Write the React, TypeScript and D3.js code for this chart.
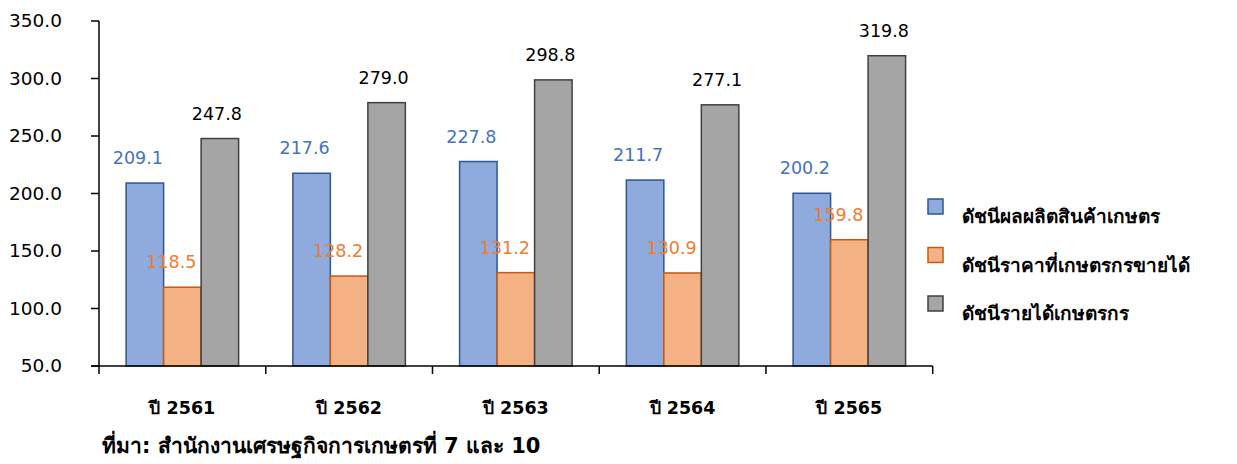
import React from "react";
import * as d3 from "d3";

const categories = ["ปี 2561", "ปี 2562", "ปี 2563", "ปี 2564", "ปี 2565"];
const seriesNames = [
  "ดัชนีผลผลิตสินค้าเกษตร",
  "ดัชนีราคาที่เกษตรกรขายได้",
  "ดัชนีรายได้เกษตรกร",
];
const productionIndex = [209.1, 217.6, 227.8, 211.7, 200.2];
const priceIndex = [118.5, 128.2, 131.2, 130.9, 159.8];
const incomeIndex = [247.8, 279.0, 298.8, 277.1, 319.8];
const yTicks = [50, 100, 150, 200, 250, 300, 350];
const sourceText = "ที่มา: สำนักงานเศรษฐกิจการเกษตรที่ 7 และ 10";

const fills = ["#8FAADC", "#F4B183", "#A5A5A5"];
const strokes = ["#2F5597", "#C55A11", "#404040"];
const labelColors = ["#4472C4", "#ED7D31", "#000000"];
const labelDx = [-7, -11, -3];

const FONT = "'DejaVu Sans', Verdana, sans-serif";

export default function App() {
  const W = 1237;
  const H = 464;
  const x0 = 99;
  const x1 = 932.7;
  const yTop = 21;
  const yBot = 366;

  const series = [productionIndex, priceIndex, incomeIndex];

  const y = d3.scaleLinear().domain([50, 350]).range([yBot, yTop]);
  const xBand = d3.scaleBand<string>().domain(categories).range([x0, x1]).paddingInner(0).paddingOuter(0);
  const inner = d3
    .scaleBand<number>()
    .domain([0, 1, 2])
    .range([-56.25, 56.25])
    .padding(0);

  const boundaries = categories.map((c) => xBand(c) as number).concat([x1]);

  return (
    <svg
      width={W}
      height={H}
      style={{ position: "absolute", left: 0, top: 0, background: "#fff" }}
      fontFamily={FONT}
    >
      {/* bars */}
      {categories.map((c, i) => {
        const cx = (xBand(c) as number) + xBand.bandwidth() / 2;
        return (
          <g key={c}>
            {series.map((s, k) => {
              const bx = cx + (inner(k) as number);
              const by = y(s[i]);
              return (
                <rect
                  key={k}
                  x={bx}
                  y={by}
                  width={inner.bandwidth()}
                  height={yBot - by}
                  fill={fills[k]}
                  stroke={strokes[k]}
                  strokeWidth={1.5}
                />
              );
            })}
          </g>
        );
      })}
      {/* labels */}
      {categories.map((c, i) => {
        const cx = (xBand(c) as number) + xBand.bandwidth() / 2;
        return (
          <g key={"l" + c}>
            {series.map((s, k) => {
              const bx = cx + (inner(k) as number) + inner.bandwidth() / 2;
              return (
                <text
                  key={k}
                  x={bx + labelDx[k]}
                  y={y(s[i]) - 19}
                  textAnchor="middle"
                  fontSize={17.5}
                  fill={labelColors[k]}
                >
                  {s[i].toFixed(1)}
                </text>
              );
            })}
          </g>
        );
      })}
      {/* y axis */}
      <line x1={x0} x2={x0} y1={yTop} y2={yBot} stroke="#000" strokeWidth={1.5} />
      {yTicks.map((t) => (
        <g key={t}>
          <line x1={x0 - 8} x2={x0} y1={y(t)} y2={y(t)} stroke="#000" strokeWidth={1.5} />
          <text
            x={62}
            y={y(t)}
            dy="0.35em"
            textAnchor="end"
            fontSize={18.5}
            fill="#000"
          >
            {t.toFixed(1)}
          </text>
        </g>
      ))}
      {/* x axis */}
      <line x1={x0 - 8} x2={x1} y1={yBot} y2={yBot} stroke="#000" strokeWidth={1.5} />
      {boundaries.map((b, i) => (
        <line key={i} x1={b} x2={b} y1={yBot} y2={yBot + 8} stroke="#000" strokeWidth={1.5} />
      ))}
      {categories.map((c) => (
        <text
          key={"x" + c}
          x={(xBand(c) as number) + xBand.bandwidth() / 2}
          y={414}
          textAnchor="middle"
          fontSize={17.5}
          fontWeight="bold"
          fill="#000"
        >
          {c}
        </text>
      ))}
      {/* legend */}
      {seriesNames.map((n, k) => (
        <g key={n} transform={`translate(928, ${199 + k * 48.5})`}>
          <rect x={0} y={0} width={15} height={15} fill={fills[k]} stroke={strokes[k]} strokeWidth={1.5} />
          <text x={34} y={26 - 0} dy="-0.1em" fontSize={19} fontWeight="bold" fill="#000">
            {n}
          </text>
        </g>
      ))}
      {/* source */}
      <text x={102} y={453} fontSize={21} fontWeight="bold" fill="#000">
        {sourceText}
      </text>
    </svg>
  );
}
